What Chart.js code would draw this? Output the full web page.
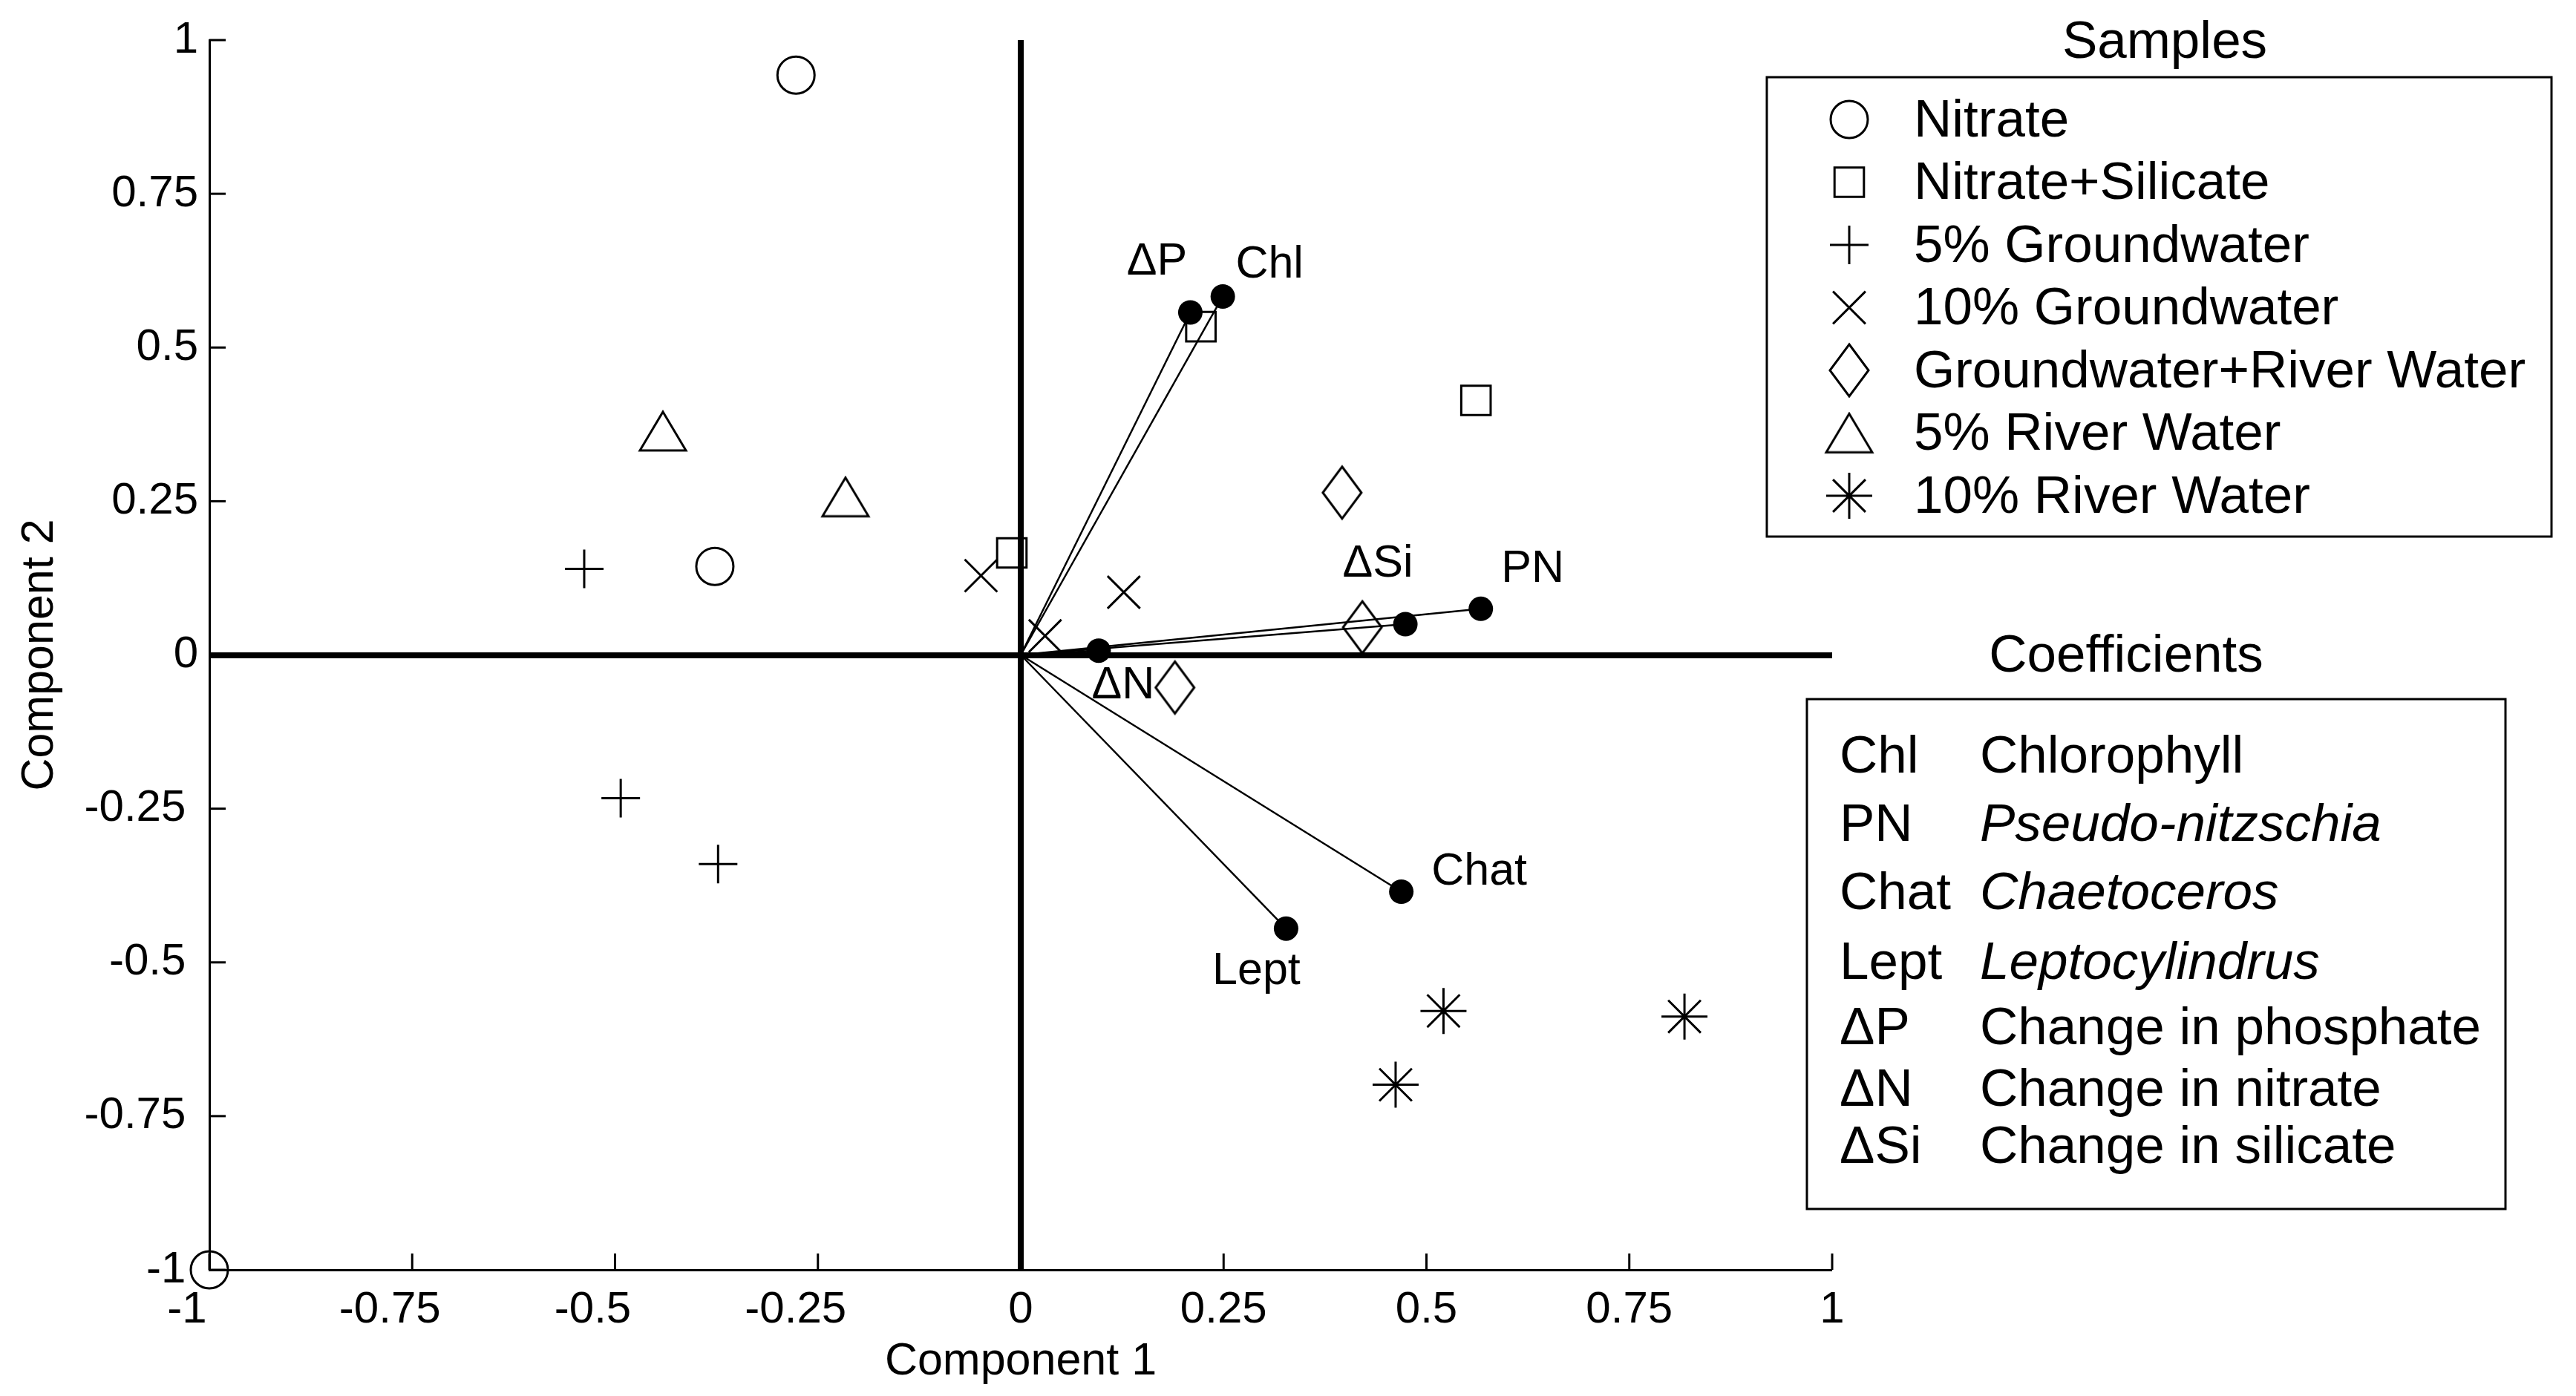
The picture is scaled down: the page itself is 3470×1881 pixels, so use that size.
<!DOCTYPE html>
<html lang="en">
<head>
<meta charset="UTF-8">
<title>Component biplot</title>
<script src="https://cdn.jsdelivr.net/npm/chart.js@4.4.1/dist/chart.umd.min.js"></script>
<style>
  html, body { margin: 0; padding: 0; background: #fff; }
  canvas { display: block; }
</style>
</head>
<body>
<canvas id="biplot" width="3470" height="1881"></canvas>
<script>
// sample scores, [component 1, component 2]
const groupNames = ['Nitrate', 'Nitrate+Silicate', '5% Groundwater', '10% Groundwater',
                    'Groundwater+River Water', '5% River Water', '10% River Water'];
const nitrate       = [[-0.277, 0.943], [-0.377, 0.144], [-1.0, -1.0]];
const nitrateSil    = [[0.222, 0.534], [0.561, 0.414], [-0.011, 0.166]];
const ground5       = [[-0.538, 0.140], [-0.493, -0.233], [-0.373, -0.340]];
const ground10      = [[-0.049, 0.129], [0.127, 0.102], [0.030, 0.031]];
const groundRiver   = [[0.396, 0.264], [0.421, 0.045], [0.190, -0.053]];
const river5        = [[-0.441, 0.364], [-0.216, 0.257]];
const river10       = [[0.521, -0.579], [0.462, -0.699], [0.818, -0.588]];

// coefficients (loadings)
const coefNames = ['Chl', 'PN', 'Chat', 'Lept', '\u0394P', '\u0394N', '\u0394Si'];
const coefLong  = ['Chlorophyll', 'Pseudo-nitzschia', 'Chaetoceros', 'Leptocylindrus',
                   'Change in phosphate', 'Change in nitrate', 'Change in silicate'];
const coefItalic = [false, true, true, true, false, false, false];
const coefX = [0.249, 0.567, 0.469, 0.327, 0.209, 0.096, 0.474];
const coefY = [0.583, 0.075, -0.385, -0.445, 0.557, 0.007, 0.050];

const axisTicks = [-1, -0.75, -0.5, -0.25, 0, 0.25, 0.5, 0.75, 1];

const FONT = "'Liberation Sans', Arial, Helvetica, sans-serif";
Chart.defaults.font.family = FONT;
Chart.defaults.color = '#000';

// matlab-like markers that chart.js has no shape for
function diamondMarker() {
    var c = document.createElement('canvas');
    c.width = 60; c.height = 78;
    var g = c.getContext('2d');
    g.lineWidth = 3; g.strokeStyle = '#000';
    g.beginPath();
    g.moveTo(30, 4); g.lineTo(56, 39); g.lineTo(30, 74); g.lineTo(4, 39);
    g.closePath(); g.stroke();
    return c;
}
function triangleMarker() {
    var c = document.createElement('canvas');
    c.width = 68; c.height = 58;
    var g = c.getContext('2d');
    g.lineWidth = 3; g.strokeStyle = '#000';
    g.beginPath();
    g.moveTo(34, 3); g.lineTo(65, 55); g.lineTo(3, 55);
    g.closePath(); g.stroke();
    return c;
}

const groupData = [nitrate, nitrateSil, ground5, ground10, groundRiver, river5, river10];
const groupStyle = ['circle', 'rect', 'cross', 'crossRot', diamondMarker(), triangleMarker(), 'star'];
const groupRadius = [25, 28, 26, 31, 30, 30, 31];

const toPts = arr => arr.map(p => ({x: p[0], y: p[1]}));

const datasets = [];
// filled dots for coefficients (drawn on top)
datasets.push({
    label: 'coefficients',
    data: coefX.map((x, i) => ({x: x, y: coefY[i]})),
    pointStyle: 'circle', pointRadius: 16.5,
    backgroundColor: '#000', borderColor: '#000', borderWidth: 0,
    clip: false
});
// vectors from origin
coefX.forEach(function (x, i) {
    datasets.push({
        label: 'vec ' + coefNames[i],
        data: [{x: 0, y: 0}, {x: x, y: coefY[i]}],
        showLine: true, pointRadius: 0,
        borderColor: '#000', borderWidth: 2.5,
        clip: false
    });
});
// sample groups
groupNames.forEach(function (name, i) {
    datasets.push({
        label: name,
        data: toPts(groupData[i]),
        pointStyle: groupStyle[i], pointRadius: groupRadius[i],
        backgroundColor: 'rgba(0,0,0,0)', borderColor: '#000', borderWidth: 3,
        clip: false
    });
});

const zeroColor = c => (c.tick && c.tick.value === 0) ? '#000' : 'rgba(0,0,0,0)';
const zeroWidth = c => (c.tick && c.tick.value === 0) ? 8 : 0;

// ticks pointing into the plot, like matlab
const inwardTicks = {
    id: 'inwardTicks',
    afterDraw(chart) {
        const ctx = chart.ctx, a = chart.chartArea;
        const xs = chart.scales.x, ys = chart.scales.y;
        ctx.save();
        ctx.strokeStyle = '#000';
        ctx.lineWidth = 3;
        xs.ticks.forEach(function (t) {
            var px = xs.getPixelForValue(t.value);
            ctx.beginPath(); ctx.moveTo(px, a.bottom); ctx.lineTo(px, a.bottom - 22); ctx.stroke();
        });
        ys.ticks.forEach(function (t) {
            var py = ys.getPixelForValue(t.value);
            ctx.beginPath(); ctx.moveTo(a.left, py); ctx.lineTo(a.left + 22, py); ctx.stroke();
        });
        ctx.restore();
    }
};

// names next to the coefficient dots
const coefLabels = {
    id: 'coefLabels',
    afterDatasetsDraw(chart) {
        const dx = [63, 70, 105, -40, -45, 33, -37];
        const dy = [-45, -56, -29, 55, -71, 44, -84];
        const ctx = chart.ctx;
        const meta = chart.getDatasetMeta(0);
        ctx.save();
        ctx.fillStyle = '#000';
        ctx.font = '61px ' + FONT;
        ctx.textAlign = 'center';
        ctx.textBaseline = 'middle';
        meta.data.forEach(function (el, i) {
            ctx.fillText(coefNames[i], el.x + dx[i], el.y + dy[i] + 3);
        });
        ctx.restore();
    }
};

// the two boxed keys on the right
const keyBoxes = {
    id: 'keyBoxes',
    afterDraw(chart) {
        const ctx = chart.ctx;
        ctx.save();
        ctx.strokeStyle = '#000';
        ctx.lineWidth = 3;
        ctx.textBaseline = 'middle';

        // Samples
        ctx.fillStyle = '#000';
        ctx.font = '71px ' + FONT;
        ctx.textAlign = 'center';
        ctx.fillText('Samples', 2916, 58);
        ctx.strokeRect(2380, 104, 1057, 619);
        ctx.textAlign = 'left';
        groupNames.forEach(function (name, i) {
            var y = 161 + i * 84.5;
            ctx.fillStyle = 'rgba(0,0,0,0)';
            ctx.strokeStyle = '#000';
            ctx.lineWidth = 3;
            Chart.helpers.drawPoint(ctx, {
                pointStyle: groupStyle[i], radius: groupRadius[i], rotation: 0, borderWidth: 3
            }, 2491, y);
            ctx.fillStyle = '#000';
            ctx.fillText(name, 2578, y + 3);
        });

        // Coefficients
        ctx.textAlign = 'center';
        ctx.fillText('Coefficients', 2864, 885);
        ctx.strokeRect(2434, 942, 941, 687);
        ctx.textAlign = 'left';
        const rowY = [1018, 1110, 1202, 1296, 1384, 1467, 1544];
        coefNames.forEach(function (n, i) {
            ctx.font = '71px ' + FONT;
            ctx.fillText(n, 2478, rowY[i] + 3);
            ctx.font = (coefItalic[i] ? 'italic ' : '') + '71px ' + FONT;
            ctx.fillText(coefLong[i], 2667, rowY[i] + 3);
        });
        ctx.restore();
    }
};

new Chart(document.getElementById('biplot'), {
    type: 'scatter',
    data: { datasets: datasets },
    options: {
        responsive: false,
        devicePixelRatio: 1,
        animation: false,
        events: [],
        layout: { padding: { left: 0, right: 1002, top: 54, bottom: 0 } },
        plugins: { legend: { display: false }, tooltip: { enabled: false } },
        scales: {
            x: {
                type: 'linear', min: -1, max: 1,
                afterBuildTicks: s => { s.ticks = axisTicks.map(v => ({value: v})); },
                afterFit: s => { s.height = 170; },
                border: { display: true, color: '#000', width: 3 },
                grid: { drawTicks: false, color: zeroColor, lineWidth: zeroWidth },
                ticks: {
                    padding: 18, font: { size: 60 }, maxRotation: 0, autoSkip: false,
                    callback: v => v < 0 ? v + '\u2002\u2002' : String(v)
                },
                title: { display: true, text: 'Component 1', font: { size: 61 },
                         padding: { top: 0, bottom: 9 } }
            },
            y: {
                type: 'linear', min: -1, max: 1,
                afterBuildTicks: s => { s.ticks = axisTicks.map(v => ({value: v})); },
                afterFit: s => { s.width = 282; },
                border: { display: true, color: '#000', width: 3 },
                grid: { drawTicks: false, color: zeroColor, lineWidth: zeroWidth },
                ticks: {
                    padding: 15, font: { size: 60 }, autoSkip: false,
                    callback: v => v < 0 ? v + ' ' : String(v)
                },
                title: { display: true, text: 'Component 2', font: { size: 61 },
                         padding: { top: 18, bottom: 0 } }
            }
        }
    },
    plugins: [inwardTicks, coefLabels, keyBoxes]
});
</script>
</body>
</html>
